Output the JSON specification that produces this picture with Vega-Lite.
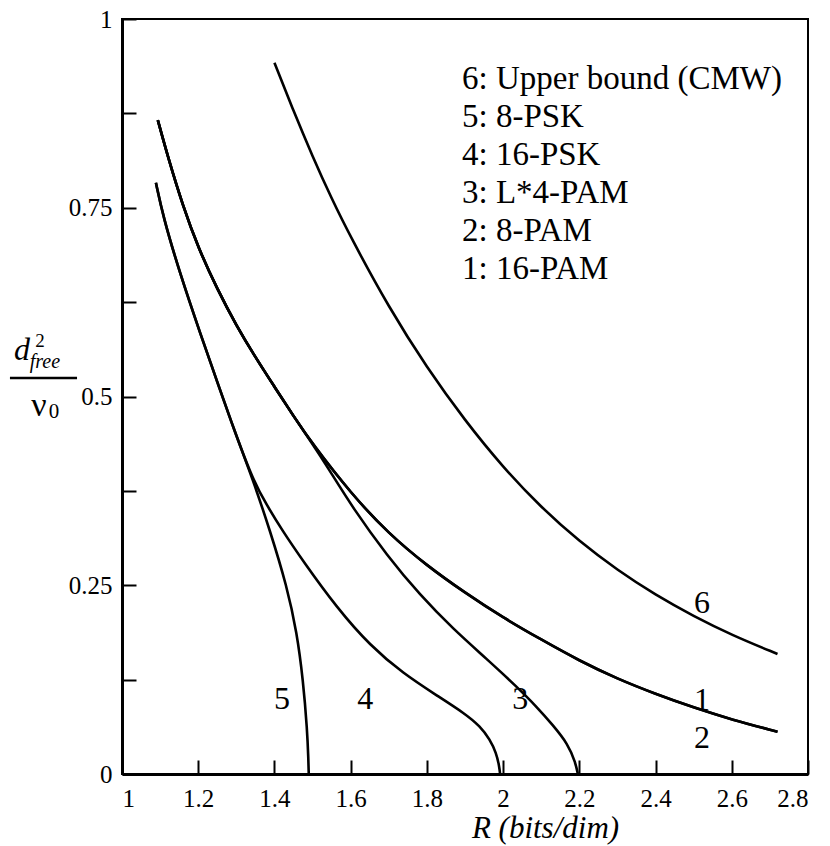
{
  "$schema": "https://vega.github.io/schema/vega-lite/v6.json",
  "width": 686,
  "height": 755,
  "autosize": {"type": "none"},
  "padding": {"left": 122, "top": 19, "right": 22, "bottom": 72},
  "background": "white",
  "config": {
    "view": {"stroke": "black", "strokeWidth": 2},
    "font": "Liberation Serif",
    "axis": {
      "grid": false,
      "domainColor": "black",
      "domainWidth": 3,
      "tickColor": "black",
      "tickWidth": 2,
      "tickSize": -14,
      "labelColor": "black",
      "titleColor": "black"
    }
  },
  "datasets": {
    "curves": [
      {"c": 6, "R": 1.40, "v": 0.942}, {"c": 6, "R": 1.45, "v": 0.878}, {"c": 6, "R": 1.50, "v": 0.818},
      {"c": 6, "R": 1.55, "v": 0.762}, {"c": 6, "R": 1.60, "v": 0.711}, {"c": 6, "R": 1.70, "v": 0.618},
      {"c": 6, "R": 1.80, "v": 0.538}, {"c": 6, "R": 1.90, "v": 0.468}, {"c": 6, "R": 2.00, "v": 0.406},
      {"c": 6, "R": 2.10, "v": 0.353}, {"c": 6, "R": 2.20, "v": 0.308}, {"c": 6, "R": 2.30, "v": 0.270},
      {"c": 6, "R": 2.40, "v": 0.237}, {"c": 6, "R": 2.50, "v": 0.209}, {"c": 6, "R": 2.60, "v": 0.184},
      {"c": 6, "R": 2.72, "v": 0.159},

      {"c": 5, "R": 1.089, "v": 0.783}, {"c": 5, "R": 1.108, "v": 0.738}, {"c": 5, "R": 1.152, "v": 0.663},
      {"c": 5, "R": 1.205, "v": 0.584}, {"c": 5, "R": 1.257, "v": 0.509}, {"c": 5, "R": 1.297, "v": 0.452},
      {"c": 5, "R": 1.344, "v": 0.389}, {"c": 5, "R": 1.388, "v": 0.323},
      {"c": 5, "R": 1.433, "v": 0.248}, {"c": 5, "R": 1.459, "v": 0.187}, {"c": 5, "R": 1.475, "v": 0.125},
      {"c": 5, "R": 1.486, "v": 0.058}, {"c": 5, "R": 1.489, "v": 0.020}, {"c": 5, "R": 1.490, "v": 0.0},

      {"c": 4, "R": 1.089, "v": 0.783}, {"c": 4, "R": 1.108, "v": 0.738}, {"c": 4, "R": 1.152, "v": 0.663},
      {"c": 4, "R": 1.205, "v": 0.584}, {"c": 4, "R": 1.257, "v": 0.509}, {"c": 4, "R": 1.297, "v": 0.452},
      {"c": 4, "R": 1.344, "v": 0.389}, {"c": 4, "R": 1.380, "v": 0.356}, {"c": 4, "R": 1.420, "v": 0.323},
      {"c": 4, "R": 1.475, "v": 0.282}, {"c": 4, "R": 1.564, "v": 0.220}, {"c": 4, "R": 1.651, "v": 0.170},
      {"c": 4, "R": 1.738, "v": 0.133}, {"c": 4, "R": 1.826, "v": 0.104}, {"c": 4, "R": 1.900, "v": 0.080},
      {"c": 4, "R": 1.940, "v": 0.063}, {"c": 4, "R": 1.965, "v": 0.046}, {"c": 4, "R": 1.982, "v": 0.028},
      {"c": 4, "R": 1.990, "v": 0.010}, {"c": 4, "R": 1.992, "v": 0.0},

      {"c": 3, "R": 1.094, "v": 0.866}, {"c": 3, "R": 1.120, "v": 0.818}, {"c": 3, "R": 1.160, "v": 0.752},
      {"c": 3, "R": 1.200, "v": 0.697}, {"c": 3, "R": 1.250, "v": 0.642}, {"c": 3, "R": 1.300, "v": 0.594},
      {"c": 3, "R": 1.350, "v": 0.552}, {"c": 3, "R": 1.400, "v": 0.513}, {"c": 3, "R": 1.450, "v": 0.474},
      {"c": 3, "R": 1.500, "v": 0.437}, {"c": 3, "R": 1.540, "v": 0.406},
      {"c": 3, "R": 1.606, "v": 0.352}, {"c": 3, "R": 1.696, "v": 0.289}, {"c": 3, "R": 1.782, "v": 0.237},
      {"c": 3, "R": 1.869, "v": 0.192}, {"c": 3, "R": 1.958, "v": 0.152}, {"c": 3, "R": 2.037, "v": 0.115},
      {"c": 3, "R": 2.090, "v": 0.088}, {"c": 3, "R": 2.130, "v": 0.065}, {"c": 3, "R": 2.170, "v": 0.040},
      {"c": 3, "R": 2.190, "v": 0.015}, {"c": 3, "R": 2.196, "v": 0.0},

      {"c": 2, "R": 1.094, "v": 0.866}, {"c": 2, "R": 1.120, "v": 0.818}, {"c": 2, "R": 1.160, "v": 0.752},
      {"c": 2, "R": 1.200, "v": 0.697}, {"c": 2, "R": 1.250, "v": 0.642}, {"c": 2, "R": 1.300, "v": 0.594},
      {"c": 2, "R": 1.350, "v": 0.552}, {"c": 2, "R": 1.400, "v": 0.513}, {"c": 2, "R": 1.450, "v": 0.474},
      {"c": 2, "R": 1.500, "v": 0.437}, {"c": 2, "R": 1.600, "v": 0.372},
      {"c": 2, "R": 1.700, "v": 0.318}, {"c": 2, "R": 1.800, "v": 0.276}, {"c": 2, "R": 1.900, "v": 0.240},
      {"c": 2, "R": 2.000, "v": 0.207}, {"c": 2, "R": 2.100, "v": 0.178}, {"c": 2, "R": 2.200, "v": 0.150},
      {"c": 2, "R": 2.300, "v": 0.126}, {"c": 2, "R": 2.400, "v": 0.106}, {"c": 2, "R": 2.500, "v": 0.088},
      {"c": 2, "R": 2.600, "v": 0.072}, {"c": 2, "R": 2.720, "v": 0.056},

      {"c": 1, "R": 1.094, "v": 0.866}, {"c": 1, "R": 1.120, "v": 0.818}, {"c": 1, "R": 1.160, "v": 0.752},
      {"c": 1, "R": 1.200, "v": 0.697}, {"c": 1, "R": 1.250, "v": 0.642}, {"c": 1, "R": 1.300, "v": 0.594},
      {"c": 1, "R": 1.350, "v": 0.552}, {"c": 1, "R": 1.400, "v": 0.513}, {"c": 1, "R": 1.450, "v": 0.474},
      {"c": 1, "R": 1.500, "v": 0.437}, {"c": 1, "R": 1.600, "v": 0.372},
      {"c": 1, "R": 1.700, "v": 0.318}, {"c": 1, "R": 1.800, "v": 0.276}, {"c": 1, "R": 1.900, "v": 0.240},
      {"c": 1, "R": 2.000, "v": 0.207}, {"c": 1, "R": 2.100, "v": 0.178}, {"c": 1, "R": 2.200, "v": 0.150},
      {"c": 1, "R": 2.300, "v": 0.126}, {"c": 1, "R": 2.400, "v": 0.106}, {"c": 1, "R": 2.500, "v": 0.088},
      {"c": 1, "R": 2.600, "v": 0.072}, {"c": 1, "R": 2.720, "v": 0.056}
    ],
    "names": [
      {"c": 6, "name": "6: Upper bound (CMW)"},
      {"c": 5, "name": "5: 8-PSK"},
      {"c": 4, "name": "4: 16-PSK"},
      {"c": 3, "name": "3: L*4-PAM"},
      {"c": 2, "name": "2: 8-PAM"},
      {"c": 1, "name": "1: 16-PAM"}
    ],
    "tags": [
      {"tag": "5", "R": 1.420, "v": 0.099},
      {"tag": "4", "R": 1.638, "v": 0.099},
      {"tag": "3", "R": 2.045, "v": 0.099},
      {"tag": "6", "R": 2.522, "v": 0.226},
      {"tag": "1", "R": 2.522, "v": 0.098},
      {"tag": "2", "R": 2.522, "v": 0.048}
    ]
  },
  "layer": [
    {
      "data": {"name": "curves"},
      "transform": [
        {"lookup": "c", "from": {"data": {"name": "names"}, "key": "c", "fields": ["name"]}}
      ],
      "mark": {"type": "line", "interpolate": "basis", "strokeWidth": 2.6, "clip": false},
      "encoding": {
        "x": {
          "field": "R", "type": "quantitative",
          "scale": {"domain": [1, 2.8], "nice": false, "zero": false},
          "axis": {
            "values": [1, 1.2, 1.4, 1.6, 1.8, 2, 2.2, 2.4, 2.6, 2.8],
            "format": "~g",
            "labelFont": "Liberation Serif",
            "labelFontSize": 25,
            "labelPadding": 26,
            "title": "R (bits/dim)",
            "titleFont": "Liberation Serif",
            "titleFontStyle": "italic",
            "titleFontWeight": "normal",
            "titleFontSize": 31,
            "titleX": 423,
            "titleY": 54,
            "titleBaseline": "middle"
          }
        },
        "y": {
          "field": "v", "type": "quantitative",
          "scale": {"domain": [0, 1], "nice": false},
          "axis": {
            "values": [0, 0.125, 0.25, 0.375, 0.5, 0.625, 0.75, 0.875, 1],
            "format": "~g",
            "labelExpr": "(datum.value * 4) % 1 == 0 ? datum.label : ''",
            "labelFont": "Liberation Serif",
            "labelFontSize": 25,
            "labelPadding": 24,
            "title": null
          }
        },
        "detail": {"field": "c", "type": "nominal"},
        "stroke": {
          "field": "name", "type": "nominal",
          "scale": {
            "domain": ["6: Upper bound (CMW)", "5: 8-PSK", "4: 16-PSK", "3: L*4-PAM", "2: 8-PAM", "1: 16-PAM"],
            "range": ["black", "black", "black", "black", "black", "black"]
          },
          "legend": {
            "orient": "none",
            "legendX": 307,
            "legendY": 43,
            "title": null,
            "padding": 0,
            "symbolSize": 0,
            "symbolStrokeWidth": 0,
            "symbolOpacity": 0,
            "labelOffset": 0,
            "labelFont": "Liberation Serif",
            "labelFontSize": 33,
            "labelColor": "black",
            "labelLimit": 600,
            "rowPadding": 4
          }
        }
      }
    },
    {
      "data": {"name": "tags"},
      "mark": {"type": "text", "font": "Liberation Serif", "fontSize": 32, "color": "black", "align": "center", "baseline": "middle"},
      "encoding": {
        "x": {"field": "R", "type": "quantitative"},
        "y": {"field": "v", "type": "quantitative"},
        "text": {"field": "tag"}
      }
    },
    {
      "data": {"values": [{"s": "d"}]},
      "mark": {"type": "text", "font": "Liberation Serif", "fontStyle": "italic", "fontSize": 32, "color": "black", "align": "center", "baseline": "middle"},
      "encoding": {"x": {"datum": 0.7375}, "y": {"datum": 0.562}, "text": {"field": "s"}}
    },
    {
      "data": {"values": [{"s": "2"}]},
      "mark": {"type": "text", "font": "Liberation Serif", "fontSize": 19, "color": "black", "align": "center", "baseline": "middle"},
      "encoding": {"x": {"datum": 0.785}, "y": {"datum": 0.573}, "text": {"field": "s"}}
    },
    {
      "data": {"values": [{"s": "free"}]},
      "mark": {"type": "text", "font": "Liberation Serif", "fontStyle": "italic", "fontSize": 20, "color": "black", "align": "left", "baseline": "middle"},
      "encoding": {"x": {"datum": 0.758}, "y": {"datum": 0.546}, "text": {"field": "s"}}
    },
    {
      "data": {"values": [{}]},
      "mark": {"type": "rule", "color": "black", "strokeWidth": 2.5},
      "encoding": {"x": {"datum": 0.706}, "x2": {"datum": 0.882}, "y": {"datum": 0.5245}}
    },
    {
      "data": {"values": [{"s": "ν"}]},
      "mark": {"type": "text", "font": "Liberation Serif", "fontSize": 34, "color": "black", "align": "center", "baseline": "middle"},
      "encoding": {"x": {"datum": 0.782}, "y": {"datum": 0.488}, "text": {"field": "s"}}
    },
    {
      "data": {"values": [{"s": "0"}]},
      "mark": {"type": "text", "font": "Liberation Serif", "fontSize": 21, "color": "black", "align": "center", "baseline": "middle"},
      "encoding": {"x": {"datum": 0.8215}, "y": {"datum": 0.479}, "text": {"field": "s"}}
    }
  ]
}
